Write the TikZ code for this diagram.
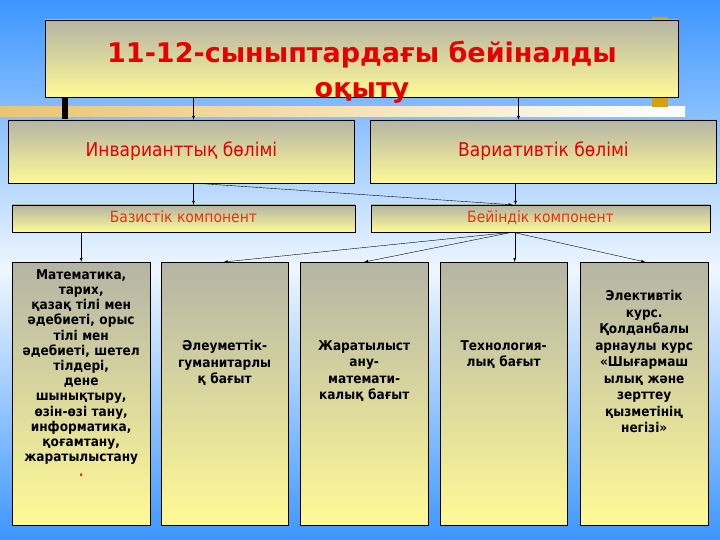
\documentclass[tikz,border=0pt]{standalone}
\usepackage{fontspec}
\setmainfont{DejaVu Sans}
\newfontfamily\condfont{DejaVu Sans Condensed}
\usetikzlibrary{positioning}
\definecolor{skyblue}{RGB}{60,150,255}
\definecolor{boxgray}{RGB}{180,180,165}
\definecolor{boxyellow}{RGB}{255,250,150}
\definecolor{titlered}{RGB}{230,0,0}
\definecolor{compred}{RGB}{235,50,10}
\definecolor{deco}{RGB}{215,160,20}
\tikzset{
  panel/.style={draw=black, thin, top color=boxgray, bottom color=boxyellow, inner sep=0pt},
  part/.style={panel, minimum width=346pt, minimum height=63pt, text height=14pt, text depth=4pt, text=titlered, font=\condfont\fontsize{19}{22}\selectfont},
  comp/.style={panel, minimum height=27pt, text height=11pt, text depth=3pt, text=compred, font=\condfont\fontsize{15.5}{18}\selectfont},
  course/.style={panel, minimum width=128pt, minimum height=263pt, anchor=north west},
  coursetext/.style={anchor=north, align=center, text width=134pt, font=\condfont\bfseries\fontsize{13.5}{16.5}\selectfont},
  link/.style={-latex, thin}
}
\begin{document}
\begin{tikzpicture}[x=1pt, y=-1pt]
  \useasboundingbox (0,0) rectangle (720,540);
  % Background
  \shade[top color=skyblue, bottom color=skyblue, middle color=white!92!skyblue] (0,0) rectangle (720,540);
  \shade[left color=deco!60, right color=white] (0,107) rectangle (685,117);
  \fill[black] (62,97) rectangle (68,120);
  \fill[deco] (652,17) rectangle (668,30);
  \fill[deco] (652,94) rectangle (668,107);

  % Title
  \node[panel, minimum width=633pt, minimum height=77pt] (title) at (361.5,58.5) {};
  \node[text=titlered, font=\bfseries\fontsize{27}{35}\selectfont, align=center] (titletext) at (362,72)
    {11-12-сыныптардағы бейіналды\\оқыту};

  % Parts
  \node[part] (inv) at (181.5,151.5) {Инварианттық бөлімі};
  \node[part] (var) at (543.5,151.5) {Вариативтік бөлімі};

  % Components
  \node[comp, minimum width=343pt] (base) at (183.5,218.5) {Базистік компонент};
  \node[comp, minimum width=339pt] (prof) at (540.5,218.5) {Бейіндік компонент};

  % Courses
  \node[course, minimum width=138pt] (c1) at (12,262) {};
  \node[course, minimum width=127pt] (c2) at (161,262) {};
  \node[course] (c3) at (300,262) {};
  \node[course, minimum width=127pt] (c4) at (440,262) {};
  \node[course] (c5) at (580,262) {};

  \node[coursetext, font=\condfont\bfseries\fontsize{13.5}{15.2}\selectfont] (t1) at (c1.north) [yshift=-4pt] {Математика,\\тарих,\\қазақ тілі мен\\әдебиеті, орыс\\тілі мен\\әдебиеті, шетел\\тілдері,\\дене\\шынықтыру,\\өзін-өзі тану,\\информатика,\\қоғамтану,\\жаратылыстану\\\textcolor{compred}{.}};
  \node[coursetext] (t2) at (c2.north) [yshift=-75pt] {Әлеуметтік-\\гуманитарлы\\қ бағыт};
  \node[coursetext] (t3) at (c3.north) [yshift=-75pt] {Жаратылыст\\ану-\\математи-\\калық бағыт};
  \node[coursetext] (t4) at (c4.north) [yshift=-75pt] {Технология-\\лық бағыт};
  \node[coursetext] (t5) at (c5.north) [yshift=-25pt] {Элективтік\\курс.\\Қолданбалы\\арнаулы курс\\«Шығармаш\\ылық және\\зерттеу\\қызметінің\\негізі»};

  % Connectors
  \draw[link] ([xshift=12pt]title.south -| inv.north) -- ([xshift=12pt]inv.north);
  \draw[link] ([xshift=-25pt]title.south -| var.north) -- ([xshift=-25pt]var.north);
  \draw[link] ([xshift=12pt]inv.south) -- ([xshift=10pt]base.north);
  \draw[link] ([xshift=14pt]inv.south) -- ([xshift=-28pt]prof.north);
  \draw[link] ([xshift=-28pt]var.south) -- ([xshift=-25pt]prof.north);
  \draw[link] (c1.north |- base.south) -- (c1.north);
  \draw[link] ([xshift=-28pt]prof.south) -- ([xshift=-1pt]c2.north);
  \draw[link] ([xshift=-28pt]prof.south) -- (c3.north);
  \draw[link] ([xshift=11pt]prof.south -| c4.north) -- ([xshift=11pt]c4.north);
  \draw[link] ([xshift=-28pt]prof.south) -- ([xshift=1pt]c5.north);
\end{tikzpicture}
\end{document}
